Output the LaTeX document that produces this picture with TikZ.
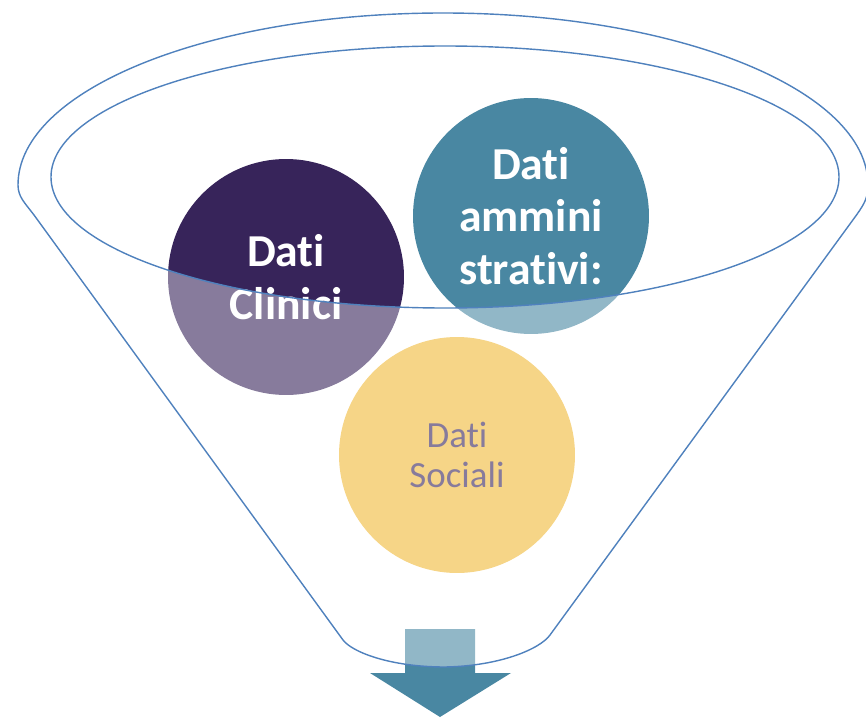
\documentclass[tikz,border=0pt]{standalone}
\usepackage{fontspec}
\setmainfont{Carlito}[Ligatures=NoCommon]
\usepackage{tikz}

\definecolor{viola}{RGB}{55,36,90}
\definecolor{ottanio}{RGB}{73,135,162}
\definecolor{giallo}{RGB}{240,185,55}
\definecolor{bordo}{RGB}{79,129,189}

\begin{document}
\begin{tikzpicture}[x=0.02cm, y=0.02cm,
    dato/.style={circle, inner sep=0pt, minimum size=4.72cm, align=center},
    grande/.style={text=white, font=\bfseries\fontsize{26}{30}\selectfont},
    imbuto/.style={draw=bordo, line width=0.8pt}]
    \useasboundingbox (0,0) rectangle (866,718);

    % i tre insiemi di dati
    \node[dato, fill=viola, grande] (clinici) at (286,441) {Dati\\Clinici};
    \node[dato, fill=ottanio, grande] (ammin) at (531,502) {Dati\\ammini\\strativi:};
    \node[dato, fill=giallo, text=viola, font=\fontsize{21}{23}\selectfont] (sociali) at (457,263) {Dati\\Sociali};

    % freccia di uscita
    \fill[ottanio] (405,89) -- (475,89) -- (475,45) -- (511,45) -- (440,1)
        -- (370,45) -- (405,45) -- cycle;

    % corpo dell'imbuto
    \coordinate (latosx) at (34,503);
    \coordinate (latodx) at (856.5,503);
    \coordinate (fondodx) at (550,83);
    \coordinate (fondosx) at (343,78);
    \def\contorno{(fondosx) -- (latosx) .. controls (25,515) and (18,521) .. (18,533)
        arc[start angle=180, end angle=0, x radius=425, y radius=172]
        .. controls (868,521) and (865,515) .. (latodx) -- (fondodx)
        .. controls (540,69) and (500,52) .. (445,51)
        .. controls (390,51) and (352,66) .. (fondosx) -- cycle}
    \fill[white, fill opacity=0.4, even odd rule] \contorno
        (445,541) ellipse[x radius=394, y radius=131];
    \draw[imbuto] \contorno;
    \draw[imbuto] (445,541) ellipse[x radius=394, y radius=131];
\end{tikzpicture}
\end{document}
